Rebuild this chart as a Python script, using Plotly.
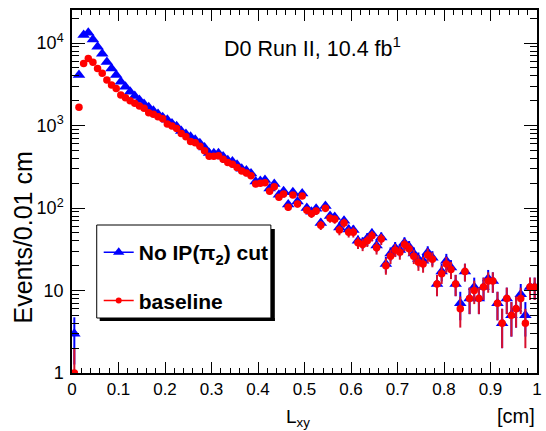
import numpy as np
import plotly.graph_objects as go

# Bin centres (0.01 cm bins)
lxy = [round(0.005 + 0.01 * i, 3) for i in range(100)]

# "No IP(pi2) cut" counts per bin
no_ip_cut = [3, 4100, 12500, 13300, 11000, 9000, 7400, 5900, 4900, 4100,
             3400, 2950, 2570, 2280, 2040, 1820, 1660, 1510, 1380, 1260,
             1170, 1060, 980, 860, 790, 730, 670, 610, 540, 465,
             460, 460, 420, 380, 365, 335, 300, 285, 262, 210,
             212, 218, 172, 195, 145, 160, 110, 155, 120, 150,
             100, 90, 98, 66, 106, 80, 78, 58, 70, 55,
             54, 40, 38, 43, 49, 35, 44, 21, 28, 33,
             31, 38, 34, 28, 24, 23, 29, 25, 12, 17,
             23, 19, 12, 7, 17, 8, 11, 8, 11, 14,
             13, 7, 4, 8, 5, 6, 9, 5, 11, 11]

# "baseline" counts per bin
baseline = [1, 1670, 5650, 6500, 5830, 4920, 4290, 3570, 3100, 2800,
            2340, 2170, 1990, 1860, 1720, 1620, 1430, 1370, 1280, 1210,
            1040, 985, 920, 800, 730, 640, 620, 560, 495, 425,
            425, 430, 390, 355, 340, 310, 280, 265, 246, 195,
            199, 203, 160, 181, 135, 148, 102, 144, 112, 140,
            94, 85, 92, 62, 99, 75, 73, 54, 66, 51,
            51, 38, 36, 40, 46, 33, 42, 20, 26, 31,
            29, 36, 32, 26, 22, 21, 27, 24, 12, 16,
            21, 18, 12, 6, 17, 8, 10, 8, 11, 13,
            13, 7, 4, 8, 5, 6, 8, 4, 11, 11]

x_ticks = [0, 0.1, 0.2, 0.3, 0.4, 0.5, 0.6, 0.7, 0.8, 0.9, 1]
x_tick_text = ["0", "0.1", "0.2", "0.3", "0.4", "0.5", "0.6", "0.7", "0.8", "0.9", "1"]
y_ticks = [1, 10, 100, 1000, 10000]
y_tick_text = ["1", "10", "10<sup>2</sup>", "10<sup>3</sup>", "10<sup>4</sup>"]

FONT = "Liberation Sans, Arial, Helvetica, sans-serif"
BLUE = "#0000ff"
RED = "#ff0000"

blue_err = np.sqrt(np.array(no_ip_cut, dtype=float))
red_err = np.sqrt(np.array(baseline, dtype=float))

fig = go.Figure()

fig.add_trace(go.Scatter(
    x=lxy, y=no_ip_cut, mode="markers", showlegend=False,
    marker=dict(symbol="triangle-up", size=11, color=BLUE, line=dict(width=0)),
    error_y=dict(type="data", array=blue_err, arrayminus=blue_err,
                 color=BLUE, thickness=2, width=0),
))
fig.add_trace(go.Scatter(
    x=lxy, y=baseline, mode="markers", showlegend=False,
    marker=dict(symbol="circle", size=7.5, color=RED, line=dict(width=0)),
    error_y=dict(type="data", array=red_err, arrayminus=red_err,
                 color="#d8102e", thickness=2, width=0),
))

# legend entries
fig.add_trace(go.Scatter(
    x=[None], y=[None], mode="lines+markers", name="No IP(π<sub>2</sub>) cut",
    legendgroup="a",
    line=dict(color=BLUE, width=1.5),
    marker=dict(symbol="triangle-up", size=10, color=BLUE),
))
fig.add_trace(go.Scatter(
    x=[None], y=[None], mode="lines+markers", name="baseline",
    legendgroup="b",
    line=dict(color=RED, width=1.5),
    marker=dict(symbol="circle", size=6, color=RED),
))

L, R, T, B = 72, 4, 10, 58
W, H = 546, 431
pw, ph = W - L - R, H - T - B


def px(xp):
    return (xp - L) / pw


def py(yp):
    return (H - B - yp) / ph


shapes = [
    # legend shadow
    dict(type="rect", xref="paper", yref="paper",
         x0=px(100), x1=px(277), y0=py(321), y1=py(318),
         fillcolor="black", line=dict(width=0)),
    dict(type="rect", xref="paper", yref="paper",
         x0=px(273), x1=px(277), y0=py(321), y1=py(229),
         fillcolor="black", line=dict(width=0)),
    # legend box
    dict(type="rect", xref="paper", yref="paper",
         x0=px(97), x1=px(273), y0=py(318), y1=py(225),
         fillcolor="white", line=dict(color="black", width=1)),
]

annotations = [
    dict(text="D0 Run II, 10.4 fb<sup>1</sup>", xref="paper", yref="paper",
         x=px(224), y=py(47), xanchor="left", yanchor="middle",
         showarrow=False, font=dict(family=FONT, size=21.5, color="black")),
    dict(text="Events/0.01 cm", xref="paper", yref="paper",
         x=px(22), y=py(238), xanchor="center", yanchor="middle",
         textangle=-90, showarrow=False,
         font=dict(family=FONT, size=25, color="black")),
    dict(text="L<sub>xy</sub>", xref="paper", yref="paper",
         x=px(300), y=py(404), xanchor="center", yanchor="top",
         showarrow=False, font=dict(family=FONT, size=19, color="black")),
    dict(text="[cm]", xref="paper", yref="paper",
         x=1.0, y=py(403), xanchor="right", yanchor="top",
         showarrow=False, font=dict(family=FONT, size=20, color="black")),
]

fig.update_layout(
    width=W, height=H,
    margin=dict(l=L, r=R, t=T, b=B, pad=0),
    paper_bgcolor="white", plot_bgcolor="white",
    font=dict(family=FONT, size=17, color="black"),
    showlegend=True,
    legend=dict(x=px(99), y=py(232), xanchor="left", yanchor="top",
                bgcolor="rgba(0,0,0,0)", borderwidth=0,
                tracegroupgap=18,
                font=dict(family=FONT, size=21, color="black", weight="bold")),
    shapes=shapes,
    annotations=annotations,
)

fig.update_xaxes(
    range=[0, 1], showgrid=False, zeroline=False,
    showline=True, linecolor="black", linewidth=1.5, mirror="allticks",
    ticks="inside", ticklen=11, tickwidth=1, tickcolor="black",
    tickvals=x_ticks, ticktext=x_tick_text,
    tickfont=dict(family=FONT, size=17),
    minor=dict(ticks="inside", ticklen=5, dtick=0.02, tick0=0, showgrid=False,
               tickcolor="black"),
)
fig.update_yaxes(
    type="log", range=[0, 4.4], showgrid=False, zeroline=False,
    showline=True, linecolor="black", linewidth=1.5, mirror="allticks",
    ticks="inside", ticklen=13, tickwidth=1, tickcolor="black",
    tickvals=y_ticks, ticktext=y_tick_text,
    tickfont=dict(family=FONT, size=18),
    ticklabelstandoff=3,
    minor=dict(ticks="inside", ticklen=7, dtick="D1", showgrid=False,
               tickcolor="black"),
)

fig.write_html(
    "out.html",
    config={"displayModeBar": False},
    post_script="document.body.style.margin='0';document.body.style.padding='0';",
)
